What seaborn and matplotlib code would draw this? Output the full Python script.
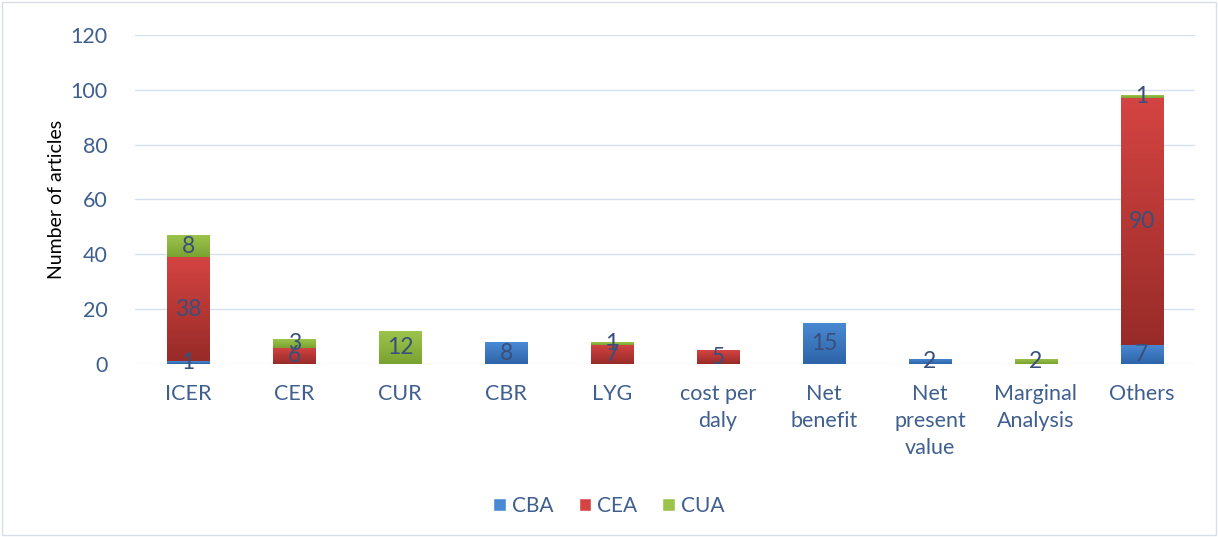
import numpy as np
import pandas as pd
import matplotlib
matplotlib.use("Agg")
import matplotlib.pyplot as plt
from matplotlib.colors import LinearSegmentedColormap
from matplotlib.patches import Patch, Rectangle
import seaborn as sns

categories = ["ICER", "CER", "CUR", "CBR", "LYG", "cost per\ndaly", "Net\nbenefit",
              "Net\npresent\nvalue", "Marginal\nAnalysis", "Others"]
cba = [1, 0, 0, 8, 0, 0, 15, 2, 0, 7]
cea = [38, 6, 0, 0, 7, 5, 0, 0, 0, 90]
cua = [8, 3, 12, 0, 1, 0, 0, 0, 2, 1]

df = pd.DataFrame({"metric": categories, "CBA": cba, "CEA": cea, "CUA": cua})

sns.set_style("white")
plt.rcParams["font.family"] = ["Lato", "DejaVu Sans"]

text_col = "#3f5f8f"
colors = {"CBA": ("#4a8ad4", "#2e64a8"), "CEA": ("#d44442", "#982b28"), "CUA": ("#9cc44c", "#7aa232")}

fig = plt.figure(figsize=(12.18, 5.37), dpi=100)
ax = fig.add_axes([0.111, 0.322, 0.870, 0.613])

bottom = np.zeros(len(df))
for s in ["CBA", "CEA", "CUA"]:
    sns.barplot(data=df, x="metric", y=s, color=colors[s][0], bottom=bottom, width=0.4,
                saturation=1, ax=ax, linewidth=0)
    bottom = bottom + df[s].values

# vertical gradient fill like Excel
grad = np.linspace(0, 1, 100).reshape(-1, 1)
series_order = ["CBA", "CEA", "CUA"]
patches = list(ax.patches)
n = len(df)
bottom = np.zeros(n)
for k, s in enumerate(series_order):
    cmap = LinearSegmentedColormap.from_list(s, [colors[s][1], colors[s][0]])
    vals = df[s].values
    for i in range(n):
        p = patches[k * n + i]
        h = vals[i]
        if h <= 0:
            continue
        x0 = p.get_x()
        w = p.get_width()
        y0 = bottom[i]
        im = ax.imshow(grad, extent=[x0, x0 + w, y0, y0 + h], origin="lower", cmap=cmap,
                       aspect="auto", zorder=p.get_zorder() + 0.1)
        im.set_clip_path(p)
        ax.text(x0 + w / 2, y0 + h / 2, str(h), ha="center", va="center",
                fontsize=16.5, color="#3a4f7a", zorder=5)
    bottom = bottom + vals

ax.set_xlim(-0.5, n - 0.5)
ax.set_ylim(0, 120)
ax.set_yticks(range(0, 121, 20))
ax.yaxis.grid(True, color="#d5dff0", linewidth=1)
ax.set_axisbelow(True)
for sp in ax.spines.values():
    sp.set_visible(False)
ax.tick_params(axis="both", length=0, labelsize=15.5, colors=text_col)
ax.tick_params(axis="x", pad=14)
ax.tick_params(axis="y", pad=20)
for t in ax.get_xticklabels():
    t.set_linespacing(1.45)
ax.set_xlabel("")
ax.set_ylabel("Number of articles", fontsize=14, color="black", labelpad=4)

handles = [Patch(facecolor=colors[s][0], label=s) for s in series_order]
leg = fig.legend(handles=handles, loc="center", bbox_to_anchor=(0.5, 0.058), ncol=3,
                 frameon=False, fontsize=15, handlelength=0.6, handleheight=0.6,
                 handletextpad=0.3, columnspacing=1.2)
for t in leg.get_texts():
    t.set_color(text_col)

fig.patches.append(Rectangle((0.002, 0.004), 0.996, 0.992, transform=fig.transFigure,
                             fill=False, edgecolor="#d9dde5", linewidth=1))

fig.savefig("out.png", dpi=100)
